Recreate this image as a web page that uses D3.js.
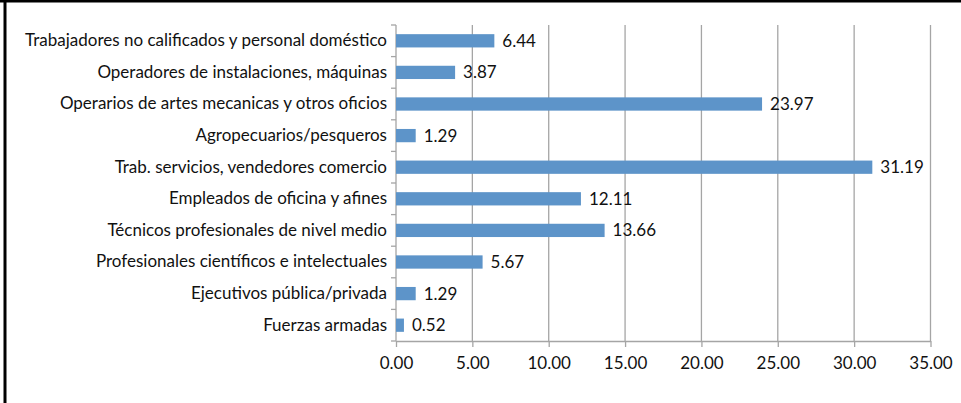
<!DOCTYPE html>
<html>
<head>
<meta charset="utf-8">
<script src="https://cdn.jsdelivr.net/npm/d3@7"></script>
<style>
  body { margin: 0; background: #fff; }
  svg { display: block; }
  text { font-family: Lato, "Open Sans", sans-serif; fill: #111; }
</style>
</head>
<body>
<svg id="chart"></svg>
<script>
// categories top to bottom
const categories = [
  "Trabajadores no calificados y personal doméstico",
  "Operadores de instalaciones, máquinas",
  "Operarios de artes mecanicas y otros oficios",
  "Agropecuarios/pesqueros",
  "Trab. servicios, vendedores comercio",
  "Empleados de oficina y afines",
  "Técnicos profesionales de nivel medio",
  "Profesionales científicos e intelectuales",
  "Ejecutivos pública/privada",
  "Fuerzas armadas"
];
const values = [6.44, 3.87, 23.97, 1.29, 31.19, 12.11, 13.66, 5.67, 1.29, 0.52];
const xTicks = [0, 5, 10, 15, 20, 25, 30, 35];

const W = 961, H = 403;
const margin = { top: 25, right: 30, bottom: 62, left: 396 };
const innerW = 930.5 - margin.left;
const innerH = 341 - margin.top;
const grey = "#a5a5a5";
const FS = 17;

const svg = d3.select("#chart").attr("width", W).attr("height", H);

// frame (only left and top edges are visible in the crop)
svg.append("line").attr("x1", 5).attr("x2", 5).attr("y1", 0).attr("y2", H)
  .attr("stroke", "#000").attr("stroke-width", 3);
svg.append("line").attr("x1", 0).attr("x2", W).attr("y1", 1).attr("y2", 1)
  .attr("stroke", "#000").attr("stroke-width", 3);

const g = svg.append("g").attr("transform", `translate(${margin.left},${margin.top})`);

const x = d3.scaleLinear().domain([0, 35]).range([0, innerW]);
const y = d3.scaleBand().domain(categories).range([0, innerH]).padding(0);
const barH = y.bandwidth() * 0.42;

// vertical gridlines
g.selectAll("line.grid")
  .data(xTicks.slice(1))
  .join("line")
  .attr("class", "grid")
  .attr("x1", d => x(d)).attr("x2", d => x(d))
  .attr("y1", 0).attr("y2", innerH)
  .attr("stroke", grey).attr("stroke-width", 1.3);

// x axis
const xAxis = g.append("g")
  .attr("transform", `translate(0,${innerH})`)
  .call(d3.axisBottom(x).tickValues(xTicks).tickFormat(d3.format(".2f")).tickSize(6).tickSizeOuter(0).tickPadding(10));
xAxis.select(".domain").attr("stroke", grey).attr("stroke-width", 1.3);
xAxis.selectAll(".tick line").attr("stroke", grey).attr("stroke-width", 1.3);
xAxis.selectAll(".tick text").attr("font-size", FS).attr("font-family", null).attr("fill", "#111");

// y axis line and boundary ticks
g.append("line").attr("x1", 0).attr("x2", 0).attr("y1", 0).attr("y2", innerH)
  .attr("stroke", grey).attr("stroke-width", 1.3);
g.selectAll("line.ytick")
  .data(d3.range(categories.length + 1))
  .join("line")
  .attr("class", "ytick")
  .attr("x1", -5).attr("x2", 0)
  .attr("y1", i => i * y.step()).attr("y2", i => i * y.step())
  .attr("stroke", grey).attr("stroke-width", 1.3);

// category labels
const yAxis = g.append("g")
  .call(d3.axisLeft(y).tickSize(0).tickPadding(9));
yAxis.select(".domain").remove();
yAxis.selectAll(".tick text").attr("font-size", FS).attr("font-family", null).attr("fill", "#111");

// bars
g.selectAll("rect.bar")
  .data(values)
  .join("rect")
  .attr("class", "bar")
  .attr("x", 0)
  .attr("y", (d, i) => y(categories[i]) + (y.bandwidth() - barH) / 2)
  .attr("width", d => x(d))
  .attr("height", barH)
  .attr("fill", "#5d94c9");

// value labels
g.selectAll("text.val")
  .data(values)
  .join("text")
  .attr("class", "val")
  .attr("x", d => x(d) + 8)
  .attr("y", (d, i) => y(categories[i]) + y.bandwidth() / 2)
  .attr("dy", "0.35em")
  .attr("font-size", FS)
  .text(d => d3.format(".2f")(d));
</script>
</body>
</html>
